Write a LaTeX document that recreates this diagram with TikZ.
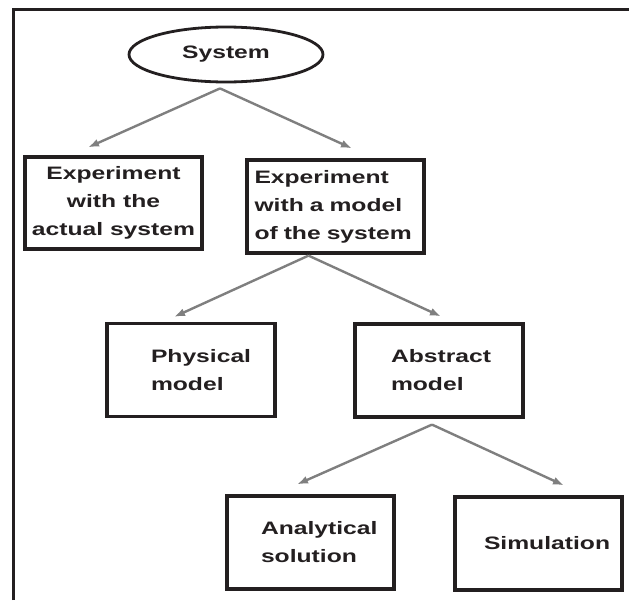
\documentclass[tikz,border=0pt]{standalone}
\usepackage{fontspec}
\newfontfamily\diagfont{Liberation Sans}[FakeStretch=1.37]
\usetikzlibrary{arrows.meta,shapes.geometric}
\definecolor{ink}{HTML}{231F20}
\definecolor{wire}{HTML}{7F7F7F}

\begin{document}
\begin{tikzpicture}[x=1pt, y=-1pt,
      lbl/.style={text=ink, font=\diagfont\bfseries\fontsize{18pt}{28pt}\selectfont},
      box/.style={lbl, draw=ink, line width=3.2pt, minimum width=168pt, minimum height=93pt, inner sep=0pt},
      link/.style={draw=wire, line width=2.4pt, -{Latex[length=11pt, width=8pt]}}]
    \useasboundingbox (0,0) rectangle (629,600);
    \draw[draw=ink, line width=3pt] (13,600) -- (13,9.5) -- (629,9.5);

    \node[lbl, draw=ink, line width=2.8pt, ellipse, minimum width=194pt, minimum height=55pt, inner sep=0pt] (sys) at (226,54.5) {System};

    \node[box, minimum width=177pt, minimum height=92pt, align=center] (real) at (113.5,203) {Experiment\\with the\\actual system};
    \node[box, minimum width=177pt, text width=162pt, align=left] (model) at (335.5,206.5) {Experiment\\with a model\\of the system};

    \node[box, text width=80pt, align=left] (phys) at (191,370) {Physical\\model};
    \node[box, text width=96pt, align=left] (abst) at (439,370.5) {Abstract\\model};

    \node[box, minimum width=167pt, text width=99pt, align=left] (ana) at (310.5,542.5) {Analytical\\solution};
    \node[box, minimum width=167pt, text width=109pt, align=left] (sim) at (538.5,543.5) {Simulation};

    \coordinate (sysfork) at ([xshift=-6pt, yshift=-5pt]sys.south);
    \coordinate (modfork) at ([xshift=-27pt, yshift=-1pt]model.south);
    \coordinate (absfork) at ([xshift=-7pt, yshift=-6pt]abst.south);

    \draw[link] (sysfork) -- ([xshift=-25.5pt, yshift=8pt]real.north);
    \draw[link] (sysfork) -- ([xshift=16.5pt, yshift=10pt]model.north);
    \draw[link] (modfork) -- ([xshift=-17pt, yshift=5pt]phys.north);
    \draw[link] (modfork) -- ([xshift=2pt, yshift=6pt]abst.north);
    \draw[link] (absfork) -- ([xshift=-13.5pt, yshift=10pt]ana.north);
    \draw[link] (absfork) -- ([xshift=25.5pt, yshift=10pt]sim.north);
  \end{tikzpicture}
\end{document}
